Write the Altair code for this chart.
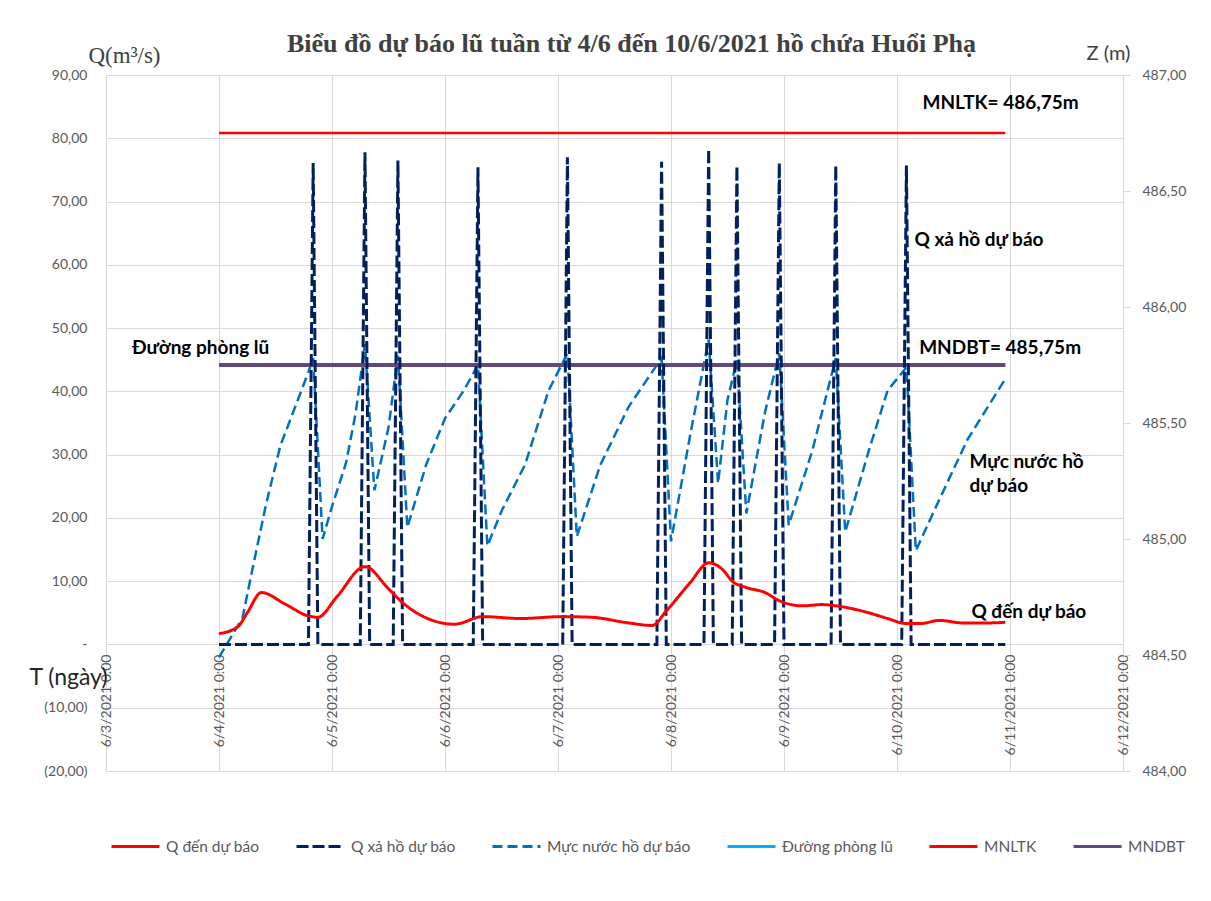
import altair as alt
import pandas as pd

# ---------------- data (hours after 6/4/2021 0:00) ----------------
series_names = ["Q đến dự báo", "Q xả hồ dự báo", "Mực nước hồ dự báo",
                "Đường phòng lũ", "MNLTK", "MNDBT"]
series_colors = ["#FF0000", "#002060", "#0070C0", "#00B0F0", "#FF0000", "#604A7B"]
series_dash = [[1, 0], [12, 4], [10, 5], [1, 0], [1, 0], [1, 0]]

q_den_hours = [0, 4, 6, 9, 14, 19, 21, 25, 31, 36, 39, 44, 50, 56, 64, 73, 79, 87, 92, 95,
               100, 104, 107, 109, 112, 116, 119, 124, 128, 132, 138, 142, 146, 149, 153,
               158, 163, 167]
q_den_values = [1.7, 2.8, 5.0, 8.2, 6.4, 4.5, 4.3, 7.5, 12.3, 8.8, 6.6, 4.2, 3.2, 4.4, 4.1,
                4.4, 4.3, 3.4, 3.0, 5.3, 9.7, 12.9, 11.8, 10.0, 9.0, 8.2, 6.9, 6.1, 6.3, 6.0,
                5.0, 4.1, 3.3, 3.3, 3.8, 3.4, 3.4, 3.5]

q_xa_hours = [0, 19, 20, 21, 30, 31, 32, 37, 38, 39, 54, 55, 56, 73, 74, 75, 93, 94, 95,
              103, 104, 105, 109, 110, 111, 118, 119, 120, 130, 131, 132, 145, 146, 147, 167]
q_xa_values = [0, 0, 76.1, 0, 0, 77.8, 0, 0, 76.5, 0, 0, 75.4, 0, 0, 77.0, 0, 0, 76.3, 0,
               0, 78.3, 0, 0, 75.6, 0, 0, 76.1, 0, 0, 75.7, 0, 0, 75.7, 0, 0]

z_hours = [0, 5, 7, 10, 13, 16, 19, 20, 22, 24, 27, 29, 31, 33, 36, 38, 40, 44, 48, 52,
           55, 57, 60, 65, 70, 74, 76, 81, 87, 94, 96, 100, 104, 106, 108, 110, 112, 116,
           119, 121, 126, 131, 133, 138, 142, 146, 148, 153, 159, 167]
z_values = [484.49, 484.66, 484.86, 485.15, 485.40, 485.56, 485.72, 485.78, 485.00, 485.14,
            485.33, 485.54, 485.84, 485.21, 485.48, 485.79, 485.05, 485.32, 485.52, 485.64,
            485.75, 484.97, 485.12, 485.32, 485.64, 485.80, 485.01, 485.32, 485.57, 485.78,
            484.99, 485.44, 485.86, 485.24, 485.60, 485.77, 485.11, 485.55, 485.80, 485.06,
            485.38, 485.78, 485.03, 485.38, 485.64, 485.74, 484.95, 485.17, 485.43, 485.69]

ref_names = ["Đường phòng lũ", "MNLTK", "MNDBT"]
ref_levels = [485.75, 486.75, 485.75]
ref_start = [0, 0, 0]
ref_end = [167, 167, 167]

ann_text = ["MNLTK= 486,75m", "Q xả hồ dự báo", "Đường phòng lũ", "MNDBT= 485,75m",
            "Mực nước hồ", "dự báo", "Q đến dự báo"]
ann_hour = [149.4, 147.7, -18.5, 148.7, 159.4, 159.4, 159.8]
ann_q = [85.5, 64.0, 46.8, 46.8, 28.8, 25.0, 5.2]

q_ticks = list(range(-20, 91, 10))
z_ticks = [484.0, 484.5, 485.0, 485.5, 486.0, 486.5, 487.0]
x_ticks = list(range(-24, 193, 24))

# ---------------- tables ----------------
df_den = pd.DataFrame({"hour": q_den_hours, "q": q_den_values, "series": series_names[0]})
df_xa = pd.DataFrame({"hour": q_xa_hours, "q": q_xa_values, "series": series_names[1]})
df_z = pd.DataFrame({"hour": z_hours, "z": z_values, "series": series_names[2]})
df_ref = pd.DataFrame({"series": ref_names, "z": ref_levels, "hour": ref_start, "hour2": ref_end})
df_ann = pd.DataFrame({"text": ann_text, "hour": ann_hour, "q": ann_q})

FONT = "Lato"
GRID = "#d9d9d9"
LABEL = "#595959"

x_axis = alt.Axis(values=x_ticks,
                  labelExpr="'6/' + (4 + datum.value/24) + '/2021 0:00'",
                  labelAngle=270, labelFont=FONT, labelFontSize=14, labelColor=LABEL,
                  labelPadding=9, labelOverlap=False, grid=True, gridColor=GRID,
                  domain=False, ticks=False, offset=-126,
                  title="T (ngày)", titleAngle=0, titleX=-38, titleY=32,
                  titleAlign="center", titleBaseline="middle", titleFont=FONT,
                  titleFontSize=23, titleFontWeight="normal", titleColor="#262626")
X = alt.X("hour:Q", scale=alt.Scale(domain=[-24, 192], nice=False, zero=False), axis=x_axis)

q_axis = alt.Axis(values=q_ticks,
                  labelExpr="datum.value == 0 ? '-' : (datum.value < 0 ? '(' + replace(format(-datum.value, '.2f'), '.', ',') + ')' : replace(format(datum.value, '.2f'), '.', ','))",
                  grid=True, gridColor=GRID, domain=False, ticks=False, labelPadding=19,
                  labelFont=FONT, labelFontSize=14, labelColor=LABEL,
                  title="Q(m³/s)", titleAngle=0, titleX=18, titleY=-20, titleAlign="center",
                  titleBaseline="middle", titleFont="Liberation Serif", titleFontSize=23,
                  titleFontWeight="normal", titleColor="#404040")
YQ = alt.Y("q:Q", scale=alt.Scale(domain=[-20, 90], nice=False, zero=False), axis=q_axis)

z_axis = alt.Axis(orient="right", values=z_ticks,
                  labelExpr="replace(format(datum.value, '.2f'), '.', ',')",
                  grid=False, domain=False, ticks=True, tickSize=7, tickColor=GRID,
                  labelPadding=12, labelFont=FONT, labelFontSize=14, labelColor=LABEL,
                  title="Z (m)", titleAngle=0, titleX=-15, titleY=-22, titleAlign="center",
                  titleBaseline="middle", titleFont=FONT, titleFontSize=20,
                  titleFontWeight="normal", titleColor="#404040")
YZ = alt.Y("z:Q", scale=alt.Scale(domain=[484, 487], nice=False, zero=False), axis=z_axis)

legend = alt.Legend(orient="none", legendX=4, legendY=746, direction="horizontal",
                    columns=6, symbolType="stroke", symbolSize=2304, symbolStrokeWidth=3,
                    labelFont=FONT, labelFontSize=15.5, labelColor=LABEL, labelOffset=5,
                    columnPadding=30, labelLimit=300, title=None, gridAlign="none")
COLOR = alt.Color("series:N", scale=alt.Scale(domain=series_names, range=series_colors),
                  legend=legend)
DASH = alt.StrokeDash("series:N", scale=alt.Scale(domain=series_names, range=series_dash),
                      legend=legend)

# ---------------- Z (right axis) layers ----------------
ref_thin = alt.Chart(df_ref).transform_filter(alt.datum.series != "MNDBT").mark_rule(
    strokeWidth=2.5).encode(x=X, x2="hour2:Q", y=YZ, color=COLOR, strokeDash=DASH)
ref_thick = alt.Chart(df_ref).transform_filter(alt.datum.series == "MNDBT").mark_rule(
    strokeWidth=4).encode(x=X, x2="hour2:Q", y=YZ, color=COLOR, strokeDash=DASH)
level = alt.Chart(df_z).mark_line(strokeWidth=2.5).encode(
    x=X, y=YZ, color=COLOR, strokeDash=DASH, order="hour:Q")
z_layer = alt.layer(ref_thin, level, ref_thick)

# ---------------- Q (left axis) layers ----------------
xa = alt.Chart(df_xa).mark_line(strokeWidth=3).encode(
    x=X, y=YQ, color=COLOR, strokeDash=DASH, order="hour:Q")
den = alt.Chart(df_den).mark_line(strokeWidth=3, interpolate="monotone").encode(
    x=X, y=YQ, color=COLOR, strokeDash=DASH, order="hour:Q")
ann = alt.Chart(df_ann).mark_text(align="left", baseline="middle", font=FONT,
                                  fontWeight="bold", fontSize=19, color="#000000").encode(
    x=X, y=YQ, text="text:N")
q_layer = alt.layer(xa, den, ann)

chart = alt.layer(z_layer, q_layer).resolve_scale(y="independent").properties(
    width=1017, height=696,
    autosize=alt.AutoSizeParams(type="none"),
    padding={"left": 98, "top": 67, "right": 80, "bottom": 122},
    background="white",
    title=alt.TitleParams(text="Biểu đồ dự báo lũ tuần từ 4/6 đến 10/6/2021 hồ chứa Huổi Phạ",
                          font="Liberation Serif", fontSize=26, fontWeight="bold",
                          color="#404040", anchor="middle", dx=17, offset=-14),
).configure_view(strokeWidth=0)

chart.save("out.html", embed_options={"renderer": "svg", "actions": False})
